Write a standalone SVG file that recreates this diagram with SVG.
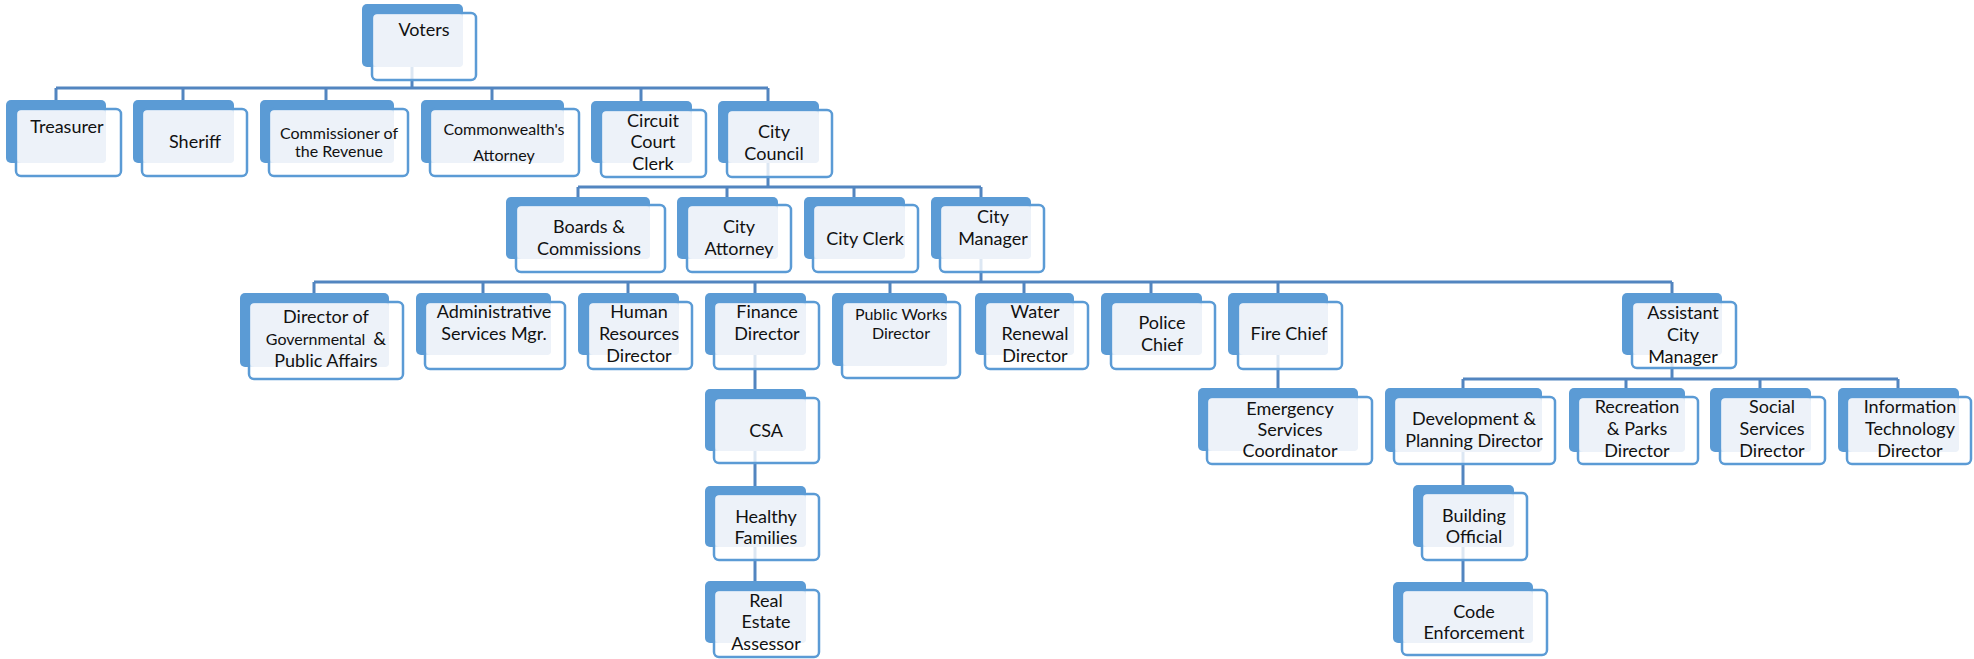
<svg xmlns="http://www.w3.org/2000/svg" width="1974" height="659" viewBox="0 0 1974 659">
<style>
.b{fill:#5b9bd5}
.f{fill:#fff;fill-opacity:.8;stroke:#5b9bd5;stroke-width:2.5}
.o{fill:#edf2f9}
.t{font-family:Lato,"Open Sans",sans-serif;font-size:18px;fill:#111;text-anchor:middle}
.s{font-size:16px}
.c{stroke:#5285c0;stroke-width:3;fill:none}
</style>
<rect width="1974" height="659" fill="#fff"/>
<g id="connectors" class="c">
<path d="M412 67V88M56 88H768M56 88V100M183 88V100M326 88V100M492 88V100M641 88V101M768 88V101"/>
<path d="M768 163V187M578 187H981M578 187V197M727 187V197M854 187V197M981 187V197"/>
<path d="M981 259V282M314 282H1672M314 282V293M483 282V293M628 282V293M755 282V293M890 282V293M1024 282V293M1151 282V293M1278 282V293M1672 282V293"/>
<path d="M755 355V389M755 451V486M755 547V581"/>
<path d="M1278 355V388"/>
<path d="M1672 355V379M1463 379H1898M1463 379V388M1626 379V388M1760 379V388M1898 379V388"/>
<path d="M1463 452V485M1463 547V582"/>
</g>
<g id="voters"><rect class="b" x="362" y="4" width="101" height="63" rx="5"/><rect class="f" x="372" y="13" width="104" height="67" rx="5"/><rect class="o" x="373.5" y="14.5" width="89.5" height="52.5" rx="4"/><text class="t" x="424" y="36">Voters</text></g>
<g id="treasurer"><rect class="b" x="6" y="100" width="100" height="63" rx="5"/><rect class="f" x="16" y="109" width="105" height="67" rx="5"/><rect class="o" x="17.5" y="110.5" width="88.5" height="52.5" rx="4"/><text class="t" x="67" y="133">Treasurer</text></g>
<g id="sheriff"><rect class="b" x="133" y="100" width="101" height="63" rx="5"/><rect class="f" x="142" y="109" width="105" height="67" rx="5"/><rect class="o" x="143.5" y="110.5" width="90.5" height="52.5" rx="4"/><text class="t" x="195" y="148">Sheriff</text></g>
<g id="commissioner"><rect class="b" x="260" y="100" width="134" height="63" rx="5"/><rect class="f" x="269" y="109" width="139" height="67" rx="5"/><rect class="o" x="270.5" y="110.5" width="123.5" height="52.5" rx="4"/><text class="t s" x="339" y="139">Commissioner of</text><text class="t s" x="339" y="157">the Revenue</text></g>
<g id="commonwealth"><rect class="b" x="421" y="100" width="143" height="63" rx="5"/><rect class="f" x="430" y="109" width="149" height="67" rx="5"/><rect class="o" x="431.5" y="110.5" width="132.5" height="52.5" rx="4"/><text class="t s" x="504" y="135">Commonwealth's</text><text class="t s" x="504" y="161">Attorney</text></g>
<g id="circuit"><rect class="b" x="591" y="101" width="101" height="62" rx="5"/><rect class="f" x="601" y="110" width="105" height="67" rx="5"/><rect class="o" x="602.5" y="111.5" width="89.5" height="51.5" rx="4"/><text class="t" x="653" y="127">Circuit</text><text class="t" x="653" y="148">Court</text><text class="t" x="653" y="170">Clerk</text></g>
<g id="council"><rect class="b" x="718" y="101" width="101" height="62" rx="5"/><rect class="f" x="727" y="110" width="105" height="67" rx="5"/><rect class="o" x="728.5" y="111.5" width="90.5" height="51.5" rx="4"/><text class="t" x="774" y="138">City</text><text class="t" x="774" y="160">Council</text></g>
<g id="boards"><rect class="b" x="506" y="197" width="144" height="62" rx="5"/><rect class="f" x="516" y="205" width="149" height="67" rx="5"/><rect class="o" x="517.5" y="206.5" width="132.5" height="52.5" rx="4"/><text class="t" x="589" y="233">Boards &amp;</text><text class="t" x="589" y="255">Commissions</text></g>
<g id="city-attorney"><rect class="b" x="677" y="197" width="101" height="62" rx="5"/><rect class="f" x="687" y="205" width="104" height="67" rx="5"/><rect class="o" x="688.5" y="206.5" width="89.5" height="52.5" rx="4"/><text class="t" x="739" y="233">City</text><text class="t" x="739" y="255">Attorney</text></g>
<g id="city-clerk"><rect class="b" x="804" y="197" width="101" height="62" rx="5"/><rect class="f" x="813" y="205" width="105" height="67" rx="5"/><rect class="o" x="814.5" y="206.5" width="90.5" height="52.5" rx="4"/><text class="t" x="865" y="245">City Clerk</text></g>
<g id="city-manager"><rect class="b" x="931" y="197" width="100" height="62" rx="5"/><rect class="f" x="940" y="205" width="104" height="67" rx="5"/><rect class="o" x="941.5" y="206.5" width="89.5" height="52.5" rx="4"/><text class="t" x="993" y="223">City</text><text class="t" x="993" y="245">Manager</text></g>
<g id="director-gov"><rect class="b" x="240" y="293" width="149" height="74" rx="5"/><rect class="f" x="249" y="302" width="154" height="77" rx="5"/><rect class="o" x="250.5" y="303.5" width="138.5" height="63.5" rx="4"/><text class="t" x="326" y="323">Director of</text><text class="t" x="326" y="345"><tspan class="s">Governmental</tspan><tspan dx="8">&amp;</tspan></text><text class="t" x="326" y="367">Public Affairs</text></g>
<g id="admin"><rect class="b" x="416" y="293" width="135" height="62" rx="5"/><rect class="f" x="425" y="302" width="140" height="67" rx="5"/><rect class="o" x="426.5" y="303.5" width="124.5" height="51.5" rx="4"/><text class="t" x="494" y="318">Administrative</text><text class="t" x="494" y="340">Services Mgr.</text></g>
<g id="hr"><rect class="b" x="578" y="293" width="101" height="62" rx="5"/><rect class="f" x="588" y="302" width="104" height="67" rx="5"/><rect class="o" x="589.5" y="303.5" width="89.5" height="51.5" rx="4"/><text class="t" x="639" y="318">Human</text><text class="t" x="639" y="340">Resources</text><text class="t" x="639" y="362">Director</text></g>
<g id="finance"><rect class="b" x="705" y="293" width="101" height="62" rx="5"/><rect class="f" x="714" y="302" width="105" height="67" rx="5"/><rect class="o" x="715.5" y="303.5" width="90.5" height="51.5" rx="4"/><text class="t" x="767" y="318">Finance</text><text class="t" x="767" y="340">Director</text></g>
<g id="public-works"><rect class="b" x="832" y="293" width="115" height="73" rx="5"/><rect class="f" x="842" y="302" width="118" height="76" rx="5"/><rect class="o" x="843.5" y="303.5" width="103.5" height="62.5" rx="4"/><text class="t s" x="901" y="320">Public Works</text><text class="t s" x="901" y="339">Director</text></g>
<g id="water"><rect class="b" x="975" y="293" width="99" height="62" rx="5"/><rect class="f" x="985" y="302" width="103" height="67" rx="5"/><rect class="o" x="986.5" y="303.5" width="87.5" height="51.5" rx="4"/><text class="t" x="1035" y="318">Water</text><text class="t" x="1035" y="340">Renewal</text><text class="t" x="1035" y="362">Director</text></g>
<g id="police"><rect class="b" x="1101" y="293" width="101" height="62" rx="5"/><rect class="f" x="1111" y="302" width="104" height="67" rx="5"/><rect class="o" x="1112.5" y="303.5" width="89.5" height="51.5" rx="4"/><text class="t" x="1162" y="329">Police</text><text class="t" x="1162" y="351">Chief</text></g>
<g id="fire"><rect class="b" x="1228" y="293" width="100" height="62" rx="5"/><rect class="f" x="1238" y="302" width="104" height="67" rx="5"/><rect class="o" x="1239.5" y="303.5" width="88.5" height="51.5" rx="4"/><text class="t" x="1289" y="340">Fire Chief</text></g>
<g id="assistant"><rect class="b" x="1622" y="293" width="100" height="62" rx="5"/><rect class="f" x="1632" y="302" width="104" height="66" rx="5"/><rect class="o" x="1633.5" y="303.5" width="88.5" height="51.5" rx="4"/><text class="t" x="1683" y="319">Assistant</text><text class="t" x="1683" y="341">City</text><text class="t" x="1683" y="363">Manager</text></g>
<g id="csa"><rect class="b" x="705" y="389" width="101" height="62" rx="5"/><rect class="f" x="714" y="398" width="105" height="65" rx="5"/><rect class="o" x="715.5" y="399.5" width="90.5" height="51.5" rx="4"/><text class="t" x="766" y="437">CSA</text></g>
<g id="healthy"><rect class="b" x="705" y="486" width="101" height="61" rx="5"/><rect class="f" x="714" y="494" width="105" height="66" rx="5"/><rect class="o" x="715.5" y="495.5" width="90.5" height="51.5" rx="4"/><text class="t" x="766" y="523">Healthy</text><text class="t" x="766" y="544">Families</text></g>
<g id="real-estate"><rect class="b" x="705" y="581" width="101" height="62" rx="5"/><rect class="f" x="714" y="590" width="105" height="67" rx="5"/><rect class="o" x="715.5" y="591.5" width="90.5" height="51.5" rx="4"/><text class="t" x="766" y="607">Real</text><text class="t" x="766" y="628">Estate</text><text class="t" x="766" y="650">Assessor</text></g>
<g id="emergency"><rect class="b" x="1198" y="388" width="160" height="63" rx="5"/><rect class="f" x="1207" y="397" width="165" height="67" rx="5"/><rect class="o" x="1208.5" y="398.5" width="149.5" height="52.5" rx="4"/><text class="t" x="1290" y="415">Emergency</text><text class="t" x="1290" y="436">Services</text><text class="t" x="1290" y="457">Coordinator</text></g>
<g id="development"><rect class="b" x="1385" y="388" width="157" height="64" rx="5"/><rect class="f" x="1394" y="397" width="161" height="67" rx="5"/><rect class="o" x="1395.5" y="398.5" width="146.5" height="53.5" rx="4"/><text class="t" x="1474" y="425">Development &amp;</text><text class="t" x="1474" y="447">Planning Director</text></g>
<g id="recreation"><rect class="b" x="1569" y="388" width="116" height="64" rx="5"/><rect class="f" x="1578" y="397" width="120" height="67" rx="5"/><rect class="o" x="1579.5" y="398.5" width="105.5" height="53.5" rx="4"/><text class="t" x="1637" y="413">Recreation</text><text class="t" x="1637" y="435">&amp; Parks</text><text class="t" x="1637" y="457">Director</text></g>
<g id="social"><rect class="b" x="1710" y="388" width="101" height="64" rx="5"/><rect class="f" x="1720" y="397" width="105" height="67" rx="5"/><rect class="o" x="1721.5" y="398.5" width="89.5" height="53.5" rx="4"/><text class="t" x="1772" y="413">Social</text><text class="t" x="1772" y="435">Services</text><text class="t" x="1772" y="457">Director</text></g>
<g id="it"><rect class="b" x="1838" y="388" width="121" height="64" rx="5"/><rect class="f" x="1847" y="397" width="124" height="67" rx="5"/><rect class="o" x="1848.5" y="398.5" width="110.5" height="53.5" rx="4"/><text class="t" x="1910" y="413">Information</text><text class="t" x="1910" y="435">Technology</text><text class="t" x="1910" y="457">Director</text></g>
<g id="building"><rect class="b" x="1413" y="485" width="101" height="62" rx="5"/><rect class="f" x="1422" y="493" width="105" height="67" rx="5"/><rect class="o" x="1423.5" y="494.5" width="90.5" height="52.5" rx="4"/><text class="t" x="1474" y="522">Building</text><text class="t" x="1474" y="543">Official</text></g>
<g id="code"><rect class="b" x="1393" y="582" width="140" height="61" rx="5"/><rect class="f" x="1402" y="590" width="145" height="65" rx="5"/><rect class="o" x="1403.5" y="591.5" width="129.5" height="51.5" rx="4"/><text class="t" x="1474" y="618">Code</text><text class="t" x="1474" y="639">Enforcement</text></g>
</svg>
